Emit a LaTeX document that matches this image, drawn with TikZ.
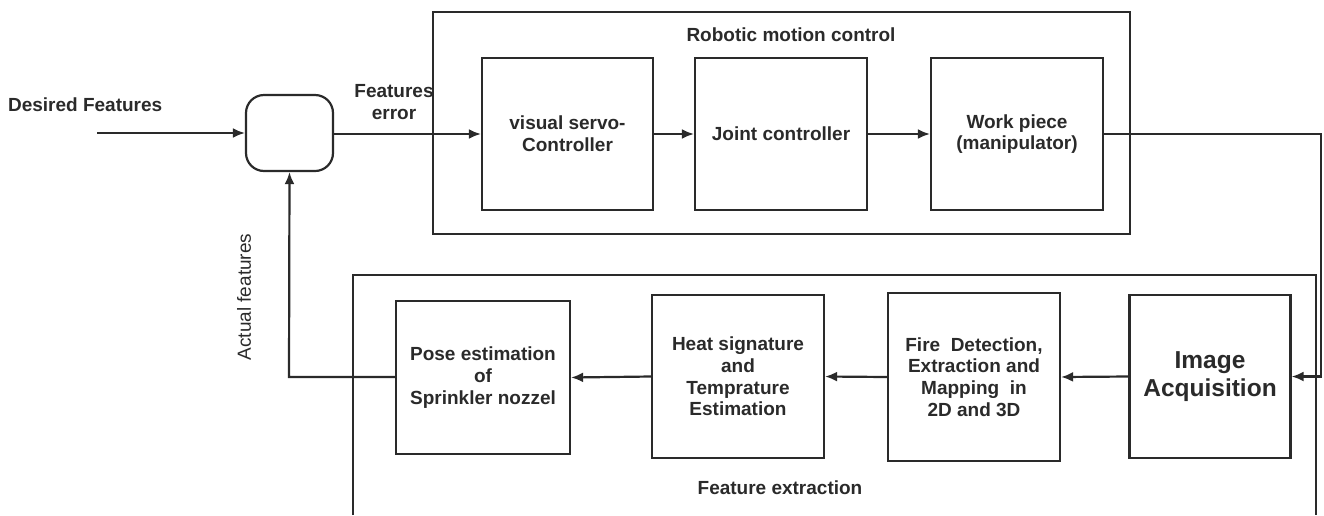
\documentclass[tikz,border=0pt]{standalone}
\usepackage{fontspec}
\setmainfont{Liberation Sans}
\usetikzlibrary{arrows.meta}
\definecolor{ink}{HTML}{2A2A2A}
\begin{document}
\begin{tikzpicture}[x=1pt,y=-1pt,
  every path/.style={line width=2.2pt},
  draw=ink, text=ink,
  lbl/.style={font=\fontsize{19}{21.7}\selectfont\bfseries, align=center, inner sep=0pt},
  blk/.style={draw, lbl, inner sep=0pt},
  frame/.style={draw, inner sep=0pt},
  arr/.style={-{Latex[length=12pt,width=10pt]}}
]
\useasboundingbox (0,0) rectangle (1324,515);

% input and summing junction
\node[lbl, anchor=west] (desired) at (7,105) {Desired Features};
\coordinate (in) at (97,133);
\node[draw, rounded corners=18pt, minimum width=87pt, minimum height=76pt] (sum) at (289.5,133) {};
\draw[arr] (in) -- (sum.west);

% robotic motion control
\node[frame, minimum width=697pt, minimum height=222pt] (rmc) at (781.5,123) {};
\node[lbl] (rmctitle) at (791,35) {Robotic motion control};
\node[blk, minimum width=171pt, minimum height=152pt] (vs) at (567.5,134) {visual servo-\\Controller};
\node[blk, minimum width=172pt, minimum height=152pt] (jc) at (781,134) {Joint controller};
\node[blk, minimum width=172pt, minimum height=152pt] (wp) at (1017,134) {Work piece\\(manipulator)};
\node[lbl] (ferr) at (394,102) {Features\\error};

\draw[arr] (sum.east |- vs.west) -- (vs.west);
\draw[arr] (vs.east) -- (jc.west);
\draw[arr] (jc.east) -- (wp.west);

% feature extraction
\coordinate (feBL) at (353,515);
\coordinate (feTL) at (353,275);
\coordinate (feTR) at (1316,275);
\coordinate (feBR) at (1316,515);
\draw (feBL) -- (feTL) -- (feTR) -- (feBR);
\node[lbl] (fetitle) at (780,488) {Feature extraction};

\node[blk, minimum width=161pt, minimum height=163pt,
      font=\fontsize{24.5}{28}\selectfont\bfseries] (ia) at (1210,376.5) {Image\\Acquisition};
\node[blk, minimum width=172pt, minimum height=168pt] (fd) at (974,377) {Fire~~Detection,\\Extraction and\\Mapping~~in\\2D and 3D};
\node[blk, minimum width=172pt, minimum height=163pt] (hs) at (738,376.5) {Heat signature\\and\\Temprature\\Estimation};
\node[blk, minimum width=174pt, minimum height=153pt] (pe) at (483,377.5) {Pose estimation\\of\\Sprinkler nozzel};

\draw[arr] (ia.west) -- (fd.west -| fd.east);
\draw[arr] (fd.west) -- (hs.west -| hs.east);
\draw[arr] (hs.west) -- (pe.west -| pe.east);

% loop from the manipulator to the camera
\coordinate (rt) at (1321,134);
\draw[arr] (wp.east) -- (rt) |- (ia.east);

% feedback of the measured features
\coordinate (fb) at (289,377);
\draw[arr] (pe.west |- fb) -- (fb) -- (sum.south);
\node[font=\fontsize{19}{21}\selectfont, rotate=90, inner sep=0pt] (actual) at (244,297) {Actual features};
\end{tikzpicture}
\end{document}
